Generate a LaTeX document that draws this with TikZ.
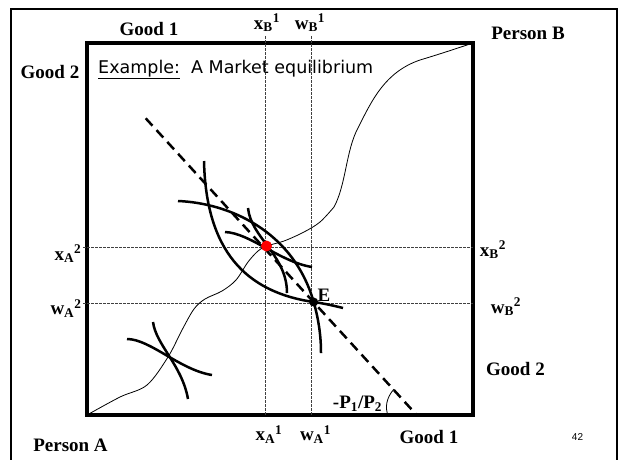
\documentclass[tikz,border=0pt]{standalone}
\usepackage{fontspec}
\setmainfont{Liberation Serif}
\newfontfamily\slidefont{DejaVu Sans}
\newfontfamily\pagefont{Liberation Sans}
\newcommand\sublab[3]{#1\textsubscript{#2}\textsuperscript{#3}}
\begin{document}
\begin{tikzpicture}[x=1pt,y=-1pt,font=\fontsize{19}{22}\selectfont\bfseries]
\useasboundingbox (0,0) rectangle (620,459);
% Edgeworth box drawn in slide pixels: origin A at (87,415), origin B at (473,43).
\tikzset{
  frame/.style={line width=2pt},
  box/.style={line width=3.5pt},
  guide/.style={black!75,line width=0.8pt,dash pattern=on 2.5pt off 1.5pt},
  indiff/.style={line width=2.5pt},
  budget/.style={line width=2.5pt,dash pattern=on 10pt off 6pt},
  contract/.style={line width=0.8pt},
  dot/.style={circle,inner sep=0pt,minimum size=9pt},
  lab/.style={inner sep=0pt}
}

% Slide frame and the box.
\draw[frame] (11,470) -- (11,9) -- (617,9) -- (617,470);
\draw[box] (87,43) rectangle (473,415);

% Guides for the endowment and the equilibrium bundle.
\draw[guide] (265,36) -- (265,415);
\draw[guide] (311,36) -- (311,415);
\draw[guide] (83,247) -- (473,247);
\draw[guide] (83,303) -- (473,303);

% Contract curve.
\draw[contract] plot[smooth,tension=0.55] coordinates {(87,415) (120,397) (147,385)
  (168,357) (182,330) (194,309) (205,299) (222,291) (236,280) (248,262) (258,251)
  (266.5,246) (284,241) (304,232) (320,222) (334,207)}
  .. controls (346,185) and (346,150) .. (358,128)
  .. controls (372,100) and (385,72) .. (420,60)
  .. controls (440,54) and (458,48) .. (473,43);

% Indifference curves.
\draw[indiff] (204,161) .. controls (206,250) and (245,292) .. (313.7,302)
  .. controls (325,303.6) and (335,306) .. (343,308);
\draw[indiff] (178,201) .. controls (228,203) and (293,230) .. (313.7,302)
  .. controls (318.4,318.8) and (321,335) .. (321,353);
\draw[indiff] (248,208) .. controls (251,238) and (287,255) .. (287,293);
\draw[indiff] (225,232) .. controls (250,233) and (280,262) .. (312,267);
\draw[indiff] (127,339) .. controls (150,339) and (180,370) .. (212,375);
\draw[indiff] (153,322) .. controls (156,345) and (182,365) .. (188,399);

% Price line and its slope.
\draw[budget] (145.7,118.3) -- (416.7,415);
\draw[line width=0.8pt] (394,389) .. controls (386,398) and (385,408) .. (388,415);

% Points.
\node[dot,fill=red,minimum size=11pt] (eq) at (266.5,246) {};
\node[dot,fill=black] (E) at (313.7,302) {};
\node[lab] (El) at (324,295) {E};

% Labels.
\node[lab] (g1t) at (149,28.5) {Good 1};
\node[lab] (pB) at (528,33) {Person B};
\node[lab] (g2l) at (50,72) {Good 2};
\node[lab] (xB1) at (267,23) {\sublab{x}{B}{1}};
\node[lab] (wB1) at (310,23) {\sublab{w}{B}{1}};
\node[lab] (xA2) at (68,254) {\sublab{x}{A}{2}};
\node[lab] (wA2) at (66,308.5) {\sublab{w}{A}{2}};
\node[lab] (xB2) at (493,250) {\sublab{x}{B}{2}};
\node[lab] (wB2) at (506,307) {\sublab{w}{B}{2}};
\node[lab] (g2r) at (515.5,368.5) {Good 2};
\node[lab] (g1b) at (429,437) {Good 1};
\node[lab] (pA) at (70.5,445) {Person A};
\node[lab] (xA1) at (269,434.5) {\sublab{x}{A}{1}};
\node[lab] (wA1) at (315.5,434.5) {\sublab{w}{A}{1}};
\node[lab] (slope) at (357.5,404) {-P\textsubscript{1}/P\textsubscript{2}};
\node[lab,anchor=base west,font=\slidefont\mdseries\fontsize{17.5}{20}\selectfont] (title) at (98,73)
  {\underline{Example:}\ \ A Market equilibrium};
\node[lab,font=\pagefont\mdseries\fontsize{10}{12}\selectfont] (page) at (577.5,436.5) {42};
\end{tikzpicture}
\end{document}
